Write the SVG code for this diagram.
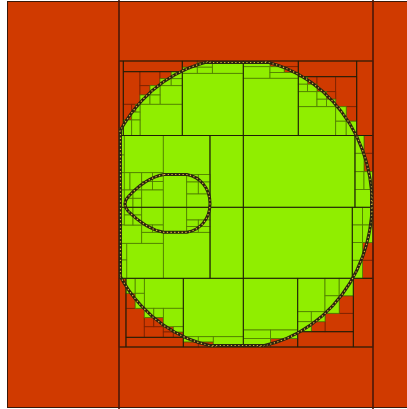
<svg xmlns="http://www.w3.org/2000/svg" width="407" height="409" viewBox="0 0 407 409">
<style>
.r{fill:#d03a00;stroke:#7a2200;stroke-width:0.8}
.g{fill:#90ee00;stroke:#4f7c00;stroke-width:0.8}
.m{stroke:#1e1e08;stroke-width:1;fill:none}
.bd{fill:none;stroke:#2a2410;stroke-width:3}
.dots{fill:none;stroke:#d6b23c;stroke-width:1.2;stroke-dasharray:1.3 2.4}
</style>
<defs>
<clipPath id="dom"><rect x="119" y="61" width="254" height="286"/></clipPath>
<clipPath id="ell"><ellipse cx="237" cy="203.5" rx="135" ry="145"/></clipPath>
</defs>
<g id="background">
<rect x="7.5" y="1.5" width="402" height="406" fill="#d03a00" stroke="#3a1808" stroke-width="1"/>
<ellipse cx="237" cy="203.5" rx="135" ry="145" fill="#90ee00" clip-path="url(#dom)"/>
</g>
<g id="red-cells">
<rect class="r" x="119" y="61" width="4.3" height="67"/>
<rect class="r" x="123.3" y="61" width="59" height="10.7"/>
<rect class="r" x="123.3" y="71.7" width="16.7" height="32.6"/>
<rect class="r" x="140" y="71.7" width="20" height="14"/>
<rect class="r" x="160" y="71.7" width="11.2" height="7"/>
<rect class="r" x="140" y="85.7" width="10" height="9.3"/>
<rect class="r" x="123.3" y="104.3" width="8.4" height="15.7"/>
<rect class="r" x="131.7" y="104.3" width="4.1" height="7.8"/>
<rect class="r" x="182.3" y="61" width="15" height="6.2"/>
<rect class="r" x="197.3" y="61" width="15" height="2"/>
<rect class="r" x="212.3" y="61" width="31" height="2.3"/>
<rect class="r" x="243.3" y="61" width="26.7" height="2"/>
<rect class="r" x="270" y="61" width="28.3" height="5.7"/>
<rect class="r" x="284.2" y="66.7" width="14.1" height="5.8"/>
<rect class="r" x="298.3" y="61" width="58.4" height="15.7"/>
<rect class="r" x="356.7" y="61" width="16.3" height="74.5"/>
<rect class="r" x="307.6" y="76.7" width="9.4" height="7.5"/>
<rect class="r" x="317" y="76.7" width="18.7" height="15"/>
<rect class="r" x="335.7" y="76.7" width="21" height="30"/>
<rect class="r" x="326.4" y="91.7" width="9.3" height="7.5"/>
<rect class="r" x="346.2" y="106.7" width="10.5" height="14.5"/>
<rect class="r" x="364" y="135.5" width="9" height="17.8"/>
<rect class="r" x="364" y="153.3" width="9" height="18.4"/>
<rect class="r" x="362.6" y="242.6" width="10.4" height="17.7"/>
<rect class="r" x="362.6" y="260.3" width="10.4" height="18"/>
<rect class="r" x="353.3" y="278.3" width="19.7" height="68.7"/>
<rect class="r" x="297.7" y="331.7" width="55.6" height="15.3"/>
<rect class="r" x="325" y="313.3" width="28.3" height="18.4"/>
<rect class="r" x="339.2" y="295.8" width="14.1" height="17.5"/>
<rect class="r" x="311.3" y="321.7" width="13.7" height="10"/>
<rect class="r" x="270.5" y="338.5" width="27.2" height="8.5"/>
<rect class="r" x="243.3" y="344.5" width="27.2" height="2.5"/>
<rect class="r" x="183.3" y="341.9" width="15" height="5.1"/>
<rect class="r" x="198.3" y="341.9" width="15" height="5.1"/>
<rect class="r" x="213.3" y="344.5" width="30" height="2.5"/>
<rect class="r" x="119" y="278.3" width="7" height="68.7"/>
<rect class="r" x="126" y="337.3" width="57.3" height="9.7"/>
<rect class="r" x="126" y="308.3" width="18.3" height="29"/>
<rect class="r" x="144.3" y="326.7" width="19" height="10.6"/>
<rect class="r" x="144.3" y="317.5" width="9.5" height="9.2"/>
<rect class="r" x="153.8" y="317.5" width="9.5" height="9.2"/>
<rect class="r" x="163.3" y="326.7" width="10" height="5.3"/>
<rect class="r" x="163.3" y="332" width="10" height="5.3"/>
<rect class="r" x="173.3" y="332" width="10" height="5.3"/>
<rect class="r" x="126" y="293.3" width="9.2" height="15"/>
</g>
<g id="green-cells">
<rect class="g" x="119" y="128" width="4.3" height="7.5"/>
<rect class="g" x="171.2" y="71.7" width="11.1" height="7"/>
<rect class="g" x="160" y="78.7" width="11.2" height="7"/>
<rect class="g" x="171.2" y="78.7" width="11.1" height="7"/>
<rect class="g" x="160" y="85.7" width="22.3" height="18.6"/>
<rect class="g" x="150" y="85.7" width="10" height="9.3"/>
<rect class="g" x="140" y="95" width="10" height="9.3"/>
<rect class="g" x="150" y="95" width="10" height="9.3"/>
<rect class="g" x="140" y="104.3" width="42.3" height="31.2"/>
<rect class="g" x="135.8" y="104.3" width="4.2" height="7.8"/>
<rect class="g" x="131.7" y="112.1" width="8.3" height="7.9"/>
<rect class="g" x="123.3" y="120" width="8.4" height="15.5"/>
<rect class="g" x="131.7" y="120" width="8.3" height="15.5"/>
<rect class="g" x="182.3" y="73.3" width="61" height="62.2"/>
<rect class="g" x="212.3" y="63.3" width="31" height="10"/>
<rect class="g" x="197.3" y="63" width="15" height="4.2"/>
<rect class="g" x="182.3" y="67.2" width="15" height="6.1"/>
<rect class="g" x="197.3" y="67.2" width="15" height="6.1"/>
<rect class="g" x="243.3" y="63" width="26.7" height="3.7"/>
<rect class="g" x="243.3" y="66.7" width="26.7" height="11.6"/>
<rect class="g" x="270" y="66.7" width="14.2" height="5.8"/>
<rect class="g" x="270" y="72.5" width="28.3" height="5.8"/>
<rect class="g" x="243.3" y="78.3" width="55" height="57.2"/>
<rect class="g" x="298.3" y="76.7" width="9.3" height="7.5"/>
<rect class="g" x="298.3" y="84.2" width="9.3" height="7.5"/>
<rect class="g" x="307.6" y="84.2" width="9.4" height="7.5"/>
<rect class="g" x="298.3" y="91.7" width="18.7" height="15"/>
<rect class="g" x="317" y="91.7" width="9.4" height="7.5"/>
<rect class="g" x="317" y="99.2" width="9.4" height="7.5"/>
<rect class="g" x="326.4" y="99.2" width="9.3" height="7.5"/>
<rect class="g" x="298.3" y="106.7" width="37.4" height="28.8"/>
<rect class="g" x="335.7" y="106.7" width="10.5" height="14.5"/>
<rect class="g" x="335.7" y="121.2" width="10.5" height="14.3"/>
<rect class="g" x="346.2" y="121.2" width="10.5" height="14.3"/>
<rect class="g" x="243.3" y="135.5" width="111.7" height="71.8"/>
<rect class="g" x="355" y="135.5" width="9" height="17.8"/>
<rect class="g" x="355" y="153.3" width="9" height="18.4"/>
<rect class="g" x="355" y="171.7" width="9" height="17.8"/>
<rect class="g" x="364" y="171.7" width="9" height="17.8"/>
<rect class="g" x="355" y="189.5" width="18" height="17.8"/>
<rect class="g" x="243.3" y="207.3" width="109" height="71"/>
<rect class="g" x="352.3" y="207.3" width="10.3" height="17.7"/>
<rect class="g" x="362.6" y="207.3" width="10.4" height="17.7"/>
<rect class="g" x="352.3" y="225" width="10.3" height="17.6"/>
<rect class="g" x="362.6" y="225" width="10.4" height="17.6"/>
<rect class="g" x="352.3" y="242.6" width="10.3" height="17.7"/>
<rect class="g" x="352.3" y="260.3" width="10.3" height="18"/>
<rect class="g" x="243.3" y="278.3" width="54.4" height="51.7"/>
<rect class="g" x="243.3" y="330" width="27.2" height="8.5"/>
<rect class="g" x="270.5" y="330" width="27.2" height="8.5"/>
<rect class="g" x="243.3" y="338.5" width="27.2" height="6"/>
<rect class="g" x="297.7" y="278.3" width="27.3" height="33.4"/>
<rect class="g" x="297.7" y="311.7" width="13.6" height="10"/>
<rect class="g" x="311.3" y="311.7" width="13.7" height="10"/>
<rect class="g" x="297.7" y="321.7" width="13.6" height="10"/>
<rect class="g" x="325" y="278.3" width="14.2" height="17.5"/>
<rect class="g" x="339.2" y="278.3" width="14.1" height="17.5"/>
<rect class="g" x="325" y="295.8" width="14.2" height="17.5"/>
<rect class="g" x="183.3" y="278.3" width="60" height="58.4"/>
<rect class="g" x="183.3" y="336.7" width="15" height="5.2"/>
<rect class="g" x="198.3" y="336.7" width="15" height="5.2"/>
<rect class="g" x="213.3" y="336.7" width="30" height="7.8"/>
<rect class="g" x="144.3" y="278.3" width="39" height="30"/>
<rect class="g" x="163.3" y="308.3" width="20" height="18.4"/>
<rect class="g" x="173.3" y="326.7" width="10" height="5.3"/>
<rect class="g" x="144.3" y="308.3" width="9.5" height="9.2"/>
<rect class="g" x="153.8" y="308.3" width="9.5" height="9.2"/>
<rect class="g" x="126" y="278.3" width="9.2" height="15"/>
<rect class="g" x="135.2" y="278.3" width="9.1" height="15"/>
<rect class="g" x="135.2" y="293.3" width="9.1" height="15"/>
<rect class="g" x="119" y="135.5" width="5.3" height="19.5"/>
<rect class="g" x="119" y="155" width="5.3" height="17.7"/>
<rect class="g" x="124.3" y="135.5" width="39" height="37.2"/>
<rect class="g" x="163.3" y="135.5" width="46.7" height="39"/>
<rect class="g" x="210" y="135.5" width="33.3" height="71.8"/>
<rect class="g" x="210" y="207.3" width="33.3" height="71"/>
<rect class="g" x="163.3" y="232.3" width="46.7" height="46"/>
<rect class="g" x="126.7" y="243.3" width="36.6" height="35"/>
<rect class="g" x="119" y="243.3" width="7.7" height="16.7"/>
<rect class="g" x="119" y="260" width="7.7" height="18.3"/>
<rect class="g" x="119" y="172.7" width="5.3" height="17.3"/>
<rect class="g" x="119" y="190" width="5.3" height="17.3"/>
<rect class="g" x="119" y="207.3" width="5.3" height="17.7"/>
<rect class="g" x="119" y="225" width="2" height="18.3"/>
<rect class="g" x="121" y="225" width="20.7" height="18.3"/>
<rect class="g" x="141.7" y="232.3" width="21.6" height="11"/>
<rect class="g" x="124.3" y="172.7" width="5.7" height="17.3"/>
<rect class="g" x="130" y="172.7" width="11.7" height="17.3"/>
<rect class="g" x="141.7" y="172.7" width="10.8" height="8.8"/>
<rect class="g" x="152.5" y="172.7" width="10.8" height="8.8"/>
<rect class="g" x="141.7" y="181.5" width="10.8" height="8.5"/>
<rect class="g" x="152.5" y="181.5" width="10.8" height="8.5"/>
<rect class="g" x="124.3" y="190" width="8.7" height="8.3"/>
<rect class="g" x="133" y="190" width="8.7" height="8.3"/>
<rect class="g" x="124.3" y="198.3" width="8.7" height="9"/>
<rect class="g" x="133" y="198.3" width="8.7" height="9"/>
<rect class="g" x="141.7" y="190" width="21.6" height="17.3"/>
<rect class="g" x="124.3" y="207.3" width="8.7" height="7.7"/>
<rect class="g" x="133" y="207.3" width="8.7" height="7.7"/>
<rect class="g" x="124.3" y="215" width="8.7" height="10"/>
<rect class="g" x="133" y="215" width="8.7" height="10"/>
<rect class="g" x="141.7" y="207.3" width="21.6" height="17.7"/>
<rect class="g" x="141.7" y="225" width="10.8" height="7.3"/>
<rect class="g" x="152.5" y="225" width="10.8" height="7.3"/>
<rect class="g" x="163.3" y="174.5" width="23.4" height="32.8"/>
<rect class="g" x="163.3" y="207.3" width="23.4" height="25"/>
<rect class="g" x="186.7" y="174.5" width="11.6" height="7.5"/>
<rect class="g" x="198.3" y="174.5" width="11.7" height="7.5"/>
<rect class="g" x="186.7" y="182" width="11.6" height="12"/>
<rect class="g" x="198.3" y="182" width="11.7" height="12"/>
<rect class="g" x="186.7" y="194" width="23.3" height="13.3"/>
<rect class="g" x="186.7" y="207.3" width="23.3" height="12.7"/>
<rect class="g" x="186.7" y="220" width="11.6" height="6.5"/>
<rect class="g" x="198.3" y="220" width="11.7" height="6.5"/>
<rect class="g" x="186.7" y="226.5" width="11.6" height="5.8"/>
<rect class="g" x="198.3" y="226.5" width="11.7" height="5.8"/>
</g>
<g id="grid-lines" class="m">
<path d="M119,61H373M119,347H373M119,135.5H373M119,207.3H373M119,278.3H373"/>
<path d="M243.3,61V347M182.3,61V135.5M298.3,61V135.5M210,135.5V278.3M355,135.5V207.3M352.3,207.3V278.3M183.3,278.3V347M297.7,278.3V347"/>
<path d="M123.3,61V135.5M356.7,61V135.5M126,278.3V347M353.3,278.3V347M123.3,71.7H182.3M298.3,76.7H356.7M126,337.3H183.3M297.7,331.7H353.3"/>
<path d="M119,0V409M373,0V409" stroke="#4a1808" stroke-width="1.6"/>
</g>
<g id="boundaries">
<g clip-path="url(#dom)">
<ellipse class="bd" cx="237" cy="203.5" rx="135" ry="145"/>
<ellipse class="dots" cx="237" cy="203.5" rx="135" ry="145"/>
</g>
<g clip-path="url(#ell)">
<rect class="bd" x="120.5" y="62.5" width="251" height="283"/>
<rect class="dots" x="120.5" y="62.5" width="251" height="283"/>
</g>
<path id="inner" class="bd" d="M164,174.5 L187,174.5 C200,177 210,188 210,203.5 C210,219 200,230 187,232.3 L164,232.3 C150,230 137,220 128,211 Q122,204 128,197 C137,187 150,177 164,174.5 Z"/>
<path class="dots" d="M164,174.5 L187,174.5 C200,177 210,188 210,203.5 C210,219 200,230 187,232.3 L164,232.3 C150,230 137,220 128,211 Q122,204 128,197 C137,187 150,177 164,174.5 Z"/>
</g>
</svg>
